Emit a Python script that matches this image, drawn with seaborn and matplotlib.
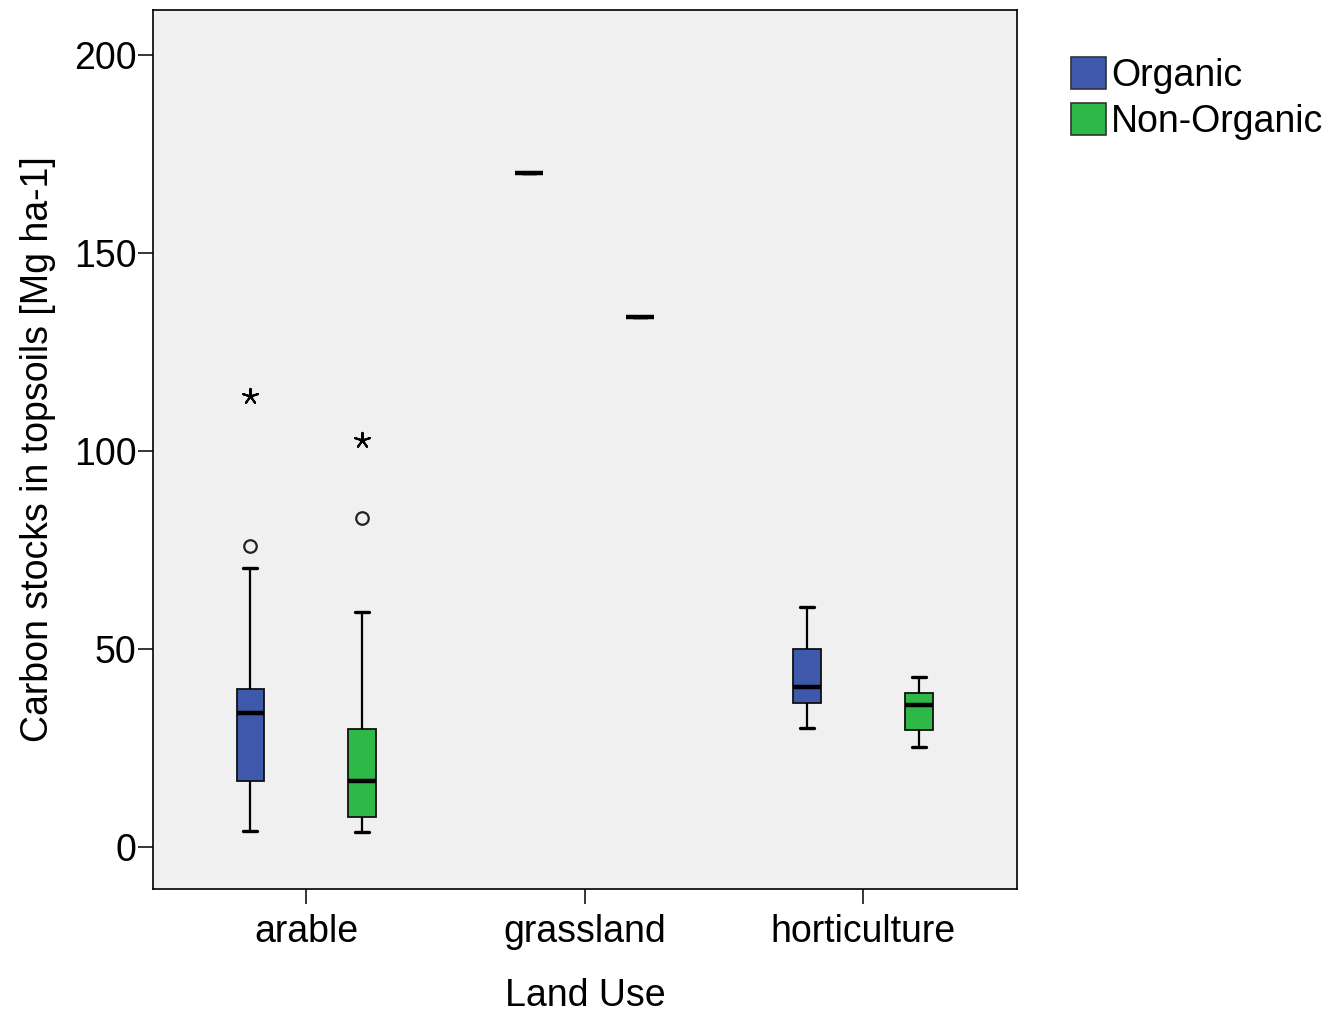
import matplotlib
matplotlib.use("Agg")
import numpy as np
import pandas as pd
import matplotlib.pyplot as plt
import seaborn as sns
from matplotlib.patches import Patch

# ---- data ----
land_use = ["arable", "grassland", "horticulture"]
farming = ["Organic", "Non-Organic"]
colors = ["#3E58AC", "#2EB848"]

# sample values (quartile values repeated so the drawn quartiles are reproduced)
arable_org = [4.0, 16.7, 16.7, 16.7, 33.8, 33.8, 33.8, 39.9, 39.9, 39.9, 70.5, 76.0, 113.9]
arable_non = [3.8, 7.6, 7.6, 7.6, 16.7, 16.7, 16.7, 29.8, 29.8, 29.8, 59.3, 83.1, 102.8]
grass_org = [170.2]
grass_non = [133.8]
hort_org = [30.1, 36.4, 40.3, 50.1, 60.5]
hort_non = [25.3, 29.5, 35.9, 39.0, 43.0]

# outliers (circle) and extremes (star)
out_land = ["arable", "arable"]
out_farm = ["Organic", "Non-Organic"]
outlier_vals = [76.0, 83.1]
extreme_vals = [113.9, 102.8]

y_ticks = [0, 50, 100, 150, 200]

# ---- build tables ----
groups = [("arable", "Organic", arable_org), ("arable", "Non-Organic", arable_non),
          ("grassland", "Organic", grass_org), ("grassland", "Non-Organic", grass_non),
          ("horticulture", "Organic", hort_org), ("horticulture", "Non-Organic", hort_non)]
rows = []
for lu, fm, vals in groups:
    for v in vals:
        rows.append({"Land Use": lu, "Farming": fm, "value": v})
df = pd.DataFrame(rows)
out_df = pd.DataFrame({"Land Use": out_land, "Farming": out_farm, "value": outlier_vals})
ext_df = pd.DataFrame({"Land Use": out_land, "Farming": out_farm, "value": extreme_vals})

sns.set_theme(style="ticks")
plt.rcParams['font.family'] = ['Liberation Sans', 'DejaVu Sans']
plt.rcParams['text.color'] = 'black'

fig = plt.figure(figsize=(13.3, 10.14), dpi=100)
ax = fig.add_axes([153/1330, 1-889/1014, (1017-153)/1330, (889-10)/1014])
ax.set_facecolor("#F0F0F0")

sns.boxplot(data=df, x="Land Use", y="value", hue="Farming", order=land_use,
            hue_order=farming, palette=colors, saturation=1, width=0.8, gap=0.75,
            showfliers=False, linecolor="#111111", linewidth=1.3,
            medianprops=dict(linewidth=3.2, color="black"),
            whiskerprops=dict(linewidth=1.6, color="black"),
            capprops=dict(linewidth=2.4, color="black"),
            legend=False, ax=ax)

sns.stripplot(data=out_df, x="Land Use", y="value", hue="Farming", order=land_use,
              hue_order=farming, palette=["#F0F0F0", "#F0F0F0"], dodge=True, jitter=False,
              marker="o", size=9, linewidth=1.6, edgecolor="#222222", legend=False, ax=ax)
sns.stripplot(data=ext_df, x="Land Use", y="value", hue="Farming", order=land_use,
              hue_order=farming, palette=["black", "black"], dodge=True, jitter=False,
              marker=(5, 2, 0), size=11, linewidth=1.5, edgecolor="black", legend=False, ax=ax)

ax.set_xlim(-0.55, 2.553)
ax.set_ylim(-10.6, 211.4)
ax.set_yticks(y_ticks)
ax.set_yticklabels([str(t) for t in y_ticks])
for s in ax.spines.values():
    s.set_visible(True)
    s.set_linewidth(1.2)
    s.set_color("black")
ax.tick_params(axis="both", length=11, width=1.1, color="black", labelsize=27, labelcolor="black")
ax.tick_params(axis="y", pad=1)
ax.tick_params(axis="x", pad=7)
ax.set_xlabel("Land Use", fontsize=27, labelpad=20, color="black")
ax.set_ylabel("Carbon stocks in topsoils [Mg ha-1]", fontsize=27, labelpad=13, color="black")

handles = [Patch(facecolor=c, edgecolor="#333333", linewidth=1.2) for c in colors]
fig.legend(handles, farming, loc="upper left", bbox_to_anchor=(1071/1330, 1-57/1014),
           frameon=False, fontsize=27, handlelength=0.92, handleheight=0.92,
           handletextpad=0.15, labelspacing=0.25, borderaxespad=0, borderpad=0,
           labelcolor="black")

fig.savefig("out.png", dpi=100, facecolor="white")
